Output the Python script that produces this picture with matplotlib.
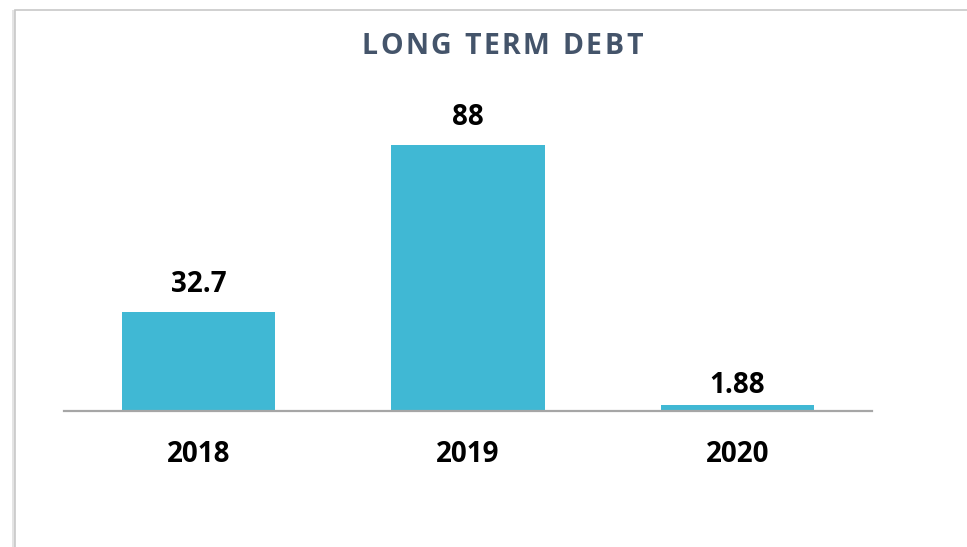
import matplotlib.pyplot as plt
from matplotlib.patches import Rectangle
from matplotlib.font_manager import FontProperties

years = ['2018', '2019', '2020']
debt = [32.7, 88, 1.88]
title = 'LONG TERM DEBT'

bar_color = '#40B8D4'
title_color = '#44546A'
label_pad = [19.5, 19.5, 14.5]  # points between bar end and label centre

plt.rcParams['font.family'] = ['Open Sans', 'DejaVu Sans']

fig = plt.figure(figsize=(9.67, 5.47), dpi=100)
W, H = 967, 547

# chart frame (only left and top edges visible)
fig.patches.append(Rectangle((12 / W, 0), 4 / W, 1 - 10 / H, transform=fig.transFigure,
                             facecolor='#E4E4E4', edgecolor='none', zorder=-2))
fig.patches.append(Rectangle((15 / W, -0.1), 1.1, 1.1 - 10 / H, transform=fig.transFigure,
                             facecolor='white', edgecolor='#C8C8C8', linewidth=1.2, zorder=-1))

ax = fig.add_axes([64 / W, 1 - 411 / H, (872 - 64) / W, (411 - 100) / H])
ax.set_facecolor('none')
x = range(len(years))
bars = ax.bar(x, debt, width=0.57, color=bar_color, zorder=2)
ax.set_xlim(-0.5, 2.5)
ax.set_ylim(0, 102.8)

for s in ['top', 'right', 'left']:
    ax.spines[s].set_visible(False)
ax.spines['bottom'].set_color('#A6A6A6')
ax.spines['bottom'].set_linewidth(1.6)
ax.spines['bottom'].set_zorder(3)
ax.set_yticks([])
ax.set_xticks(list(x))
ax.set_xticklabels(years, fontsize=20, fontweight='bold', color='black')
ax.tick_params(axis='x', length=0, pad=21)

for b, v, p in zip(bars, debt, label_pad):
    ax.annotate(f'{v:g}', (b.get_x() + b.get_width() / 2, v), xytext=(0, p),
                textcoords='offset points', ha='center', va='center',
                fontsize=20, fontweight='bold', color='black')

# title with letter spacing, one character at a time
fp = FontProperties(family='Open Sans', weight='bold', size=20.5)
renderer = fig.canvas.get_renderer()
def text_w(s):
    return renderer.get_text_width_height_descent(s, fp, ismath=False)[0]
bar_w = text_w('||')
widths = [text_w('|' + c + '|') - bar_w for c in title]
spacing = 2.6
total = sum(widths) + spacing * (len(title) - 1)
xpos = 502 - total / 2
for c, w in zip(title, widths):
    fig.text(xpos / W, 1 - 47 / H, c, ha='left', va='center', fontproperties=fp,
             color=title_color)
    xpos += w + spacing

fig.savefig('out.png', dpi=100)
